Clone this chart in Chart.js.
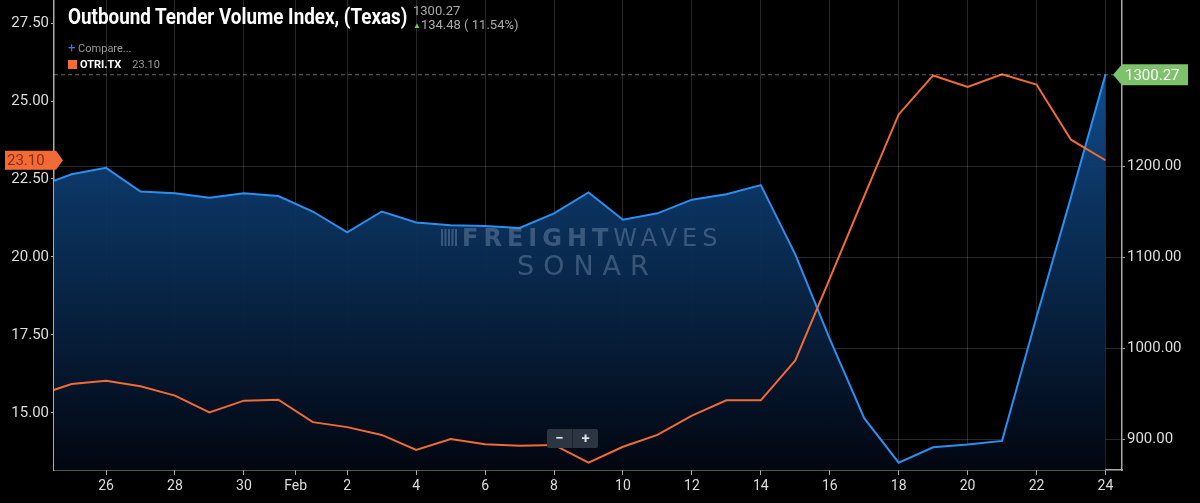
<!DOCTYPE html>
<html>
<head>
<meta charset="utf-8">
<script src="https://cdn.jsdelivr.net/npm/chart.js@4.4.1/dist/chart.umd.min.js"></script>
<style>
    html, body { margin: 0; padding: 0; background: #000; }
    #wrap { position: relative; width: 1200px; height: 503px; overflow: hidden; }
    #myCanvas { position: absolute; left: 0; top: 0; }
    .title { position: absolute; left: 68px; top: 4px; color: #fff; font: bold 22px "Roboto", sans-serif;
             transform: scaleX(0.856); transform-origin: 0 0; white-space: nowrap; }
    .last { position: absolute; left: 413px; top: 4px; color: #aaa; font: 13px "Roboto", sans-serif; line-height: 14px; }
    .last .up { color: #7dc36b; font-size: 8px; vertical-align: 1px; }
    .legend { position: absolute; left: 68px; top: 40px; font: 11px "Roboto", sans-serif; color: #999; line-height: 16px; }
    .legend .plus { color: #3d7ee0; font-size: 13px; }
    .legend .sq { display: inline-block; width: 9px; height: 9px; background: #f26b36; margin-right: 3px; vertical-align: -1px; }
    .legend b { color: #fff; font-weight: bold; }
    .zoom { position: absolute; left: 547px; top: 429px; width: 51px; height: 19px; background: #2b3642; border-radius: 2px;
            color: #ddd; font: bold 15px "Roboto", sans-serif; line-height: 19px; display: flex; }
    .zoom span { flex: 1; text-align: center; }
    .zoom span + span { border-left: 1px solid #1a222b; }
</style>
</head>
<body>
<div id="wrap">
    <canvas id="myCanvas" width="1200" height="503"></canvas>
    <div class="title">Outbound Tender Volume Index, (Texas)</div>
    <div class="last">1300.27<br><span class="up">&#9650;</span>134.48 ( 11.54%)</div>
    <div class="legend"><span class="plus">+</span> Compare...<br><span class="sq"></span><b>OTRI.TX</b>&nbsp;&nbsp;&nbsp; 23.10</div>
    <div class="zoom"><span>&minus;</span><span>+</span></div>
</div>
<script>
const dates = [
    'Jan 24', 'Jan 25', 'Jan 26', 'Jan 27', 'Jan 28', 'Jan 29', 'Jan 30', 'Jan 31',
    'Feb 1', 'Feb 2', 'Feb 3', 'Feb 4', 'Feb 5', 'Feb 6', 'Feb 7', 'Feb 8',
    'Feb 9', 'Feb 10', 'Feb 11', 'Feb 12', 'Feb 13', 'Feb 14', 'Feb 15', 'Feb 16',
    'Feb 17', 'Feb 18', 'Feb 19', 'Feb 20', 'Feb 21', 'Feb 22', 'Feb 23', 'Feb 24'
];
// Outbound Tender Volume Index (right axis)
const otvi = [
    1177, 1191, 1198, 1172, 1170, 1165, 1170, 1167,
    1150, 1127, 1150, 1138, 1135, 1134, 1132, 1148,
    1171, 1141, 1148, 1163, 1169, 1179, 1103, 1010,
    923, 874, 891, 894, 898, 1034, 1165.79, 1300.27
];
// OTRI.TX (left axis)
const otri = [
    15.56, 15.92, 16.03, 15.85, 15.55, 15.01, 15.39, 15.42,
    14.70, 14.54, 14.29, 13.81, 14.16, 13.99, 13.94, 13.97,
    13.40, 13.91, 14.29, 14.91, 15.40, 15.40, 16.68, 19.30,
    21.95, 24.57, 25.82, 25.45, 25.86, 25.53, 23.76, 23.10
];
// x tick positions are in date-index units ("Feb" sits half a day before Feb 1)
const xTickPos = [2, 4, 6, 7.5, 9, 11, 13, 15, 17, 19, 21, 23, 25, 27, 29, 31];
const xTickLabels = ['26', '28', '30', 'Feb', '2', '4', '6', '8', '10', '12', '14', '16', '18', '20', '22', '24'];
const leftTicks = [15, 17.5, 20, 22.5, 25, 27.5];
const rightTicks = [900, 1000, 1100, 1200];

const lastOtvi = otvi[otvi.length - 1];
const lastOtri = otri[otri.length - 1];

function tag(ctx, x, y, w, h, dir, fill, text, textColor) {
    // dir 1: point on the right, -1: point on the left
    ctx.save();
    ctx.fillStyle = fill;
    ctx.beginPath();
    if (dir > 0) {
        ctx.moveTo(x, y - h / 2);
        ctx.lineTo(x + w, y - h / 2);
        ctx.lineTo(x + w + 7, y);
        ctx.lineTo(x + w, y + h / 2);
        ctx.lineTo(x, y + h / 2);
    } else {
        ctx.moveTo(x, y);
        ctx.lineTo(x + 9, y - h / 2);
        ctx.lineTo(x + w, y - h / 2);
        ctx.lineTo(x + w, y + h / 2);
        ctx.lineTo(x + 9, y + h / 2);
    }
    ctx.closePath();
    ctx.fill();
    ctx.fillStyle = textColor;
    ctx.font = '15px Roboto, sans-serif';
    ctx.textBaseline = 'middle';
    ctx.textAlign = 'left';
    ctx.fillText(text, dir > 0 ? x + 2 : x + 12, y + 1);
    ctx.restore();
}

// drop the label-overhang padding chart.js adds around the plot
function fixBox(s, w, h) {
    if (w) s.width = w;
    if (h) s.height = h;
    s.paddingLeft = 0;
    s.paddingRight = 0;
    s.paddingTop = 0;
    s.paddingBottom = 0;
}

const extras = {
    id: 'extras',
    afterDatasetsDraw(chart) {
        const ctx = chart.ctx;
        const a = chart.chartArea;

        // watermark
        ctx.save();
        ctx.fillStyle = 'rgba(140,160,190,0.38)';
        ctx.textBaseline = 'alphabetic';
        ctx.textAlign = 'left';
        ctx.letterSpacing = '5px';
        ctx.font = 'bold 24px "DejaVu Sans", sans-serif';
        ctx.fillText('FREIGHT', 462, 246);
        const fw = ctx.measureText('FREIGHT').width;
        ctx.font = '24px "DejaVu Sans", sans-serif';
        ctx.fillText('WAVES', 462 + fw, 246);
        ctx.letterSpacing = '9px';
        ctx.font = '27px "DejaVu Sans", sans-serif';
        ctx.fillText('SONAR', 517, 275);
        for (let i = 0; i < 5; i++) {
            ctx.fillRect(441 + i * 3.5, 229, 2, 17);
        }
        ctx.restore();

        const yR = chart.scales.y2.getPixelForValue(lastOtvi);
        const yL = chart.scales.y.getPixelForValue(lastOtri);
        ctx.save();
        ctx.strokeStyle = 'rgba(255,255,255,0.4)';
        ctx.lineWidth = 1;
        ctx.setLineDash([4, 3]);
        ctx.beginPath();
        ctx.moveTo(a.left, yR);
        ctx.lineTo(a.right, yR);
        ctx.stroke();
        ctx.restore();
        tag(ctx, 5, yL, 51, 19, 1, '#f26b36', lastOtri.toFixed(2), '#8a2d0c');
        tag(ctx, 1113, yR, 75, 21, -1, '#7dc36b', lastOtvi.toFixed(2), '#fff');
    }
};

const ctx = document.getElementById('myCanvas').getContext('2d');
const grad = ctx.createLinearGradient(0, 0, 0, 470);
grad.addColorStop(0, 'rgba(22,96,178,0.95)');
grad.addColorStop(0.4, 'rgba(12,56,104,0.95)');
grad.addColorStop(1, 'rgba(2,6,16,1)');

const tickFont = { family: 'Roboto', size: 15 };

window.myChart = new Chart(ctx, {
    type: 'line',
    data: {
        datasets: [{
            label: 'OTRI.TX',
            data: otri.map((v, i) => ({ x: i, y: v })),
            yAxisID: 'y',
            borderColor: '#f26b36',
            borderWidth: 2,
            pointRadius: 0,
            tension: 0,
            fill: false,
            order: 0
        }, {
            label: 'Outbound Tender Volume Index, (Texas)',
            data: otvi.map((v, i) => ({ x: i, y: v })),
            yAxisID: 'y2',
            borderColor: '#2a8ff0',
            borderWidth: 2,
            pointRadius: 0,
            tension: 0,
            fill: 'start',
            backgroundColor: grad,
            order: 1
        }]
    },
    options: {
        responsive: false,
        animation: false,
        layout: { padding: 0, autoPadding: false },
        plugins: {
            legend: { display: false },
            title: { display: false },
            tooltip: { enabled: false }
        },
        scales: {
            x: {
                type: 'linear',
                min: 0.49,
                max: 31.48,
                afterBuildTicks: s => { s.ticks = xTickPos.map(v => ({ value: v })); },
                afterFit: s => fixBox(s, 0, 33),
                ticks: {
                    autoSkip: false,
                    maxRotation: 0,
                    color: '#ddd',
                    font: { family: 'Roboto', size: 14 },
                    padding: 3,
                    callback: (v, i) => xTickLabels[i]
                },
                grid: { color: 'rgba(255,255,255,0.16)', tickColor: '#aaa', tickLength: 5 },
                border: { color: '#aaa', width: 1.5 }
            },
            y: {
                position: 'left',
                min: 13.165,
                max: 28.24,
                afterBuildTicks: s => { s.ticks = leftTicks.map(v => ({ value: v })); },
                afterFit: s => fixBox(s, 54, 0),
                ticks: {
                    color: '#ddd',
                    font: tickFont,
                    padding: 2,
                    callback: v => v.toFixed(2)
                },
                grid: { drawOnChartArea: false, tickColor: '#aaa', tickLength: 3 },
                border: { color: '#aaa', width: 1.5 }
            },
            y2: {
                position: 'right',
                min: 866,
                max: 1382.4,
                afterBuildTicks: s => { s.ticks = rightTicks.map(v => ({ value: v })); },
                afterFit: s => fixBox(s, 78, 0),
                ticks: {
                    color: '#ddd',
                    font: tickFont,
                    padding: 2,
                    callback: v => v.toFixed(2)
                },
                grid: { color: 'rgba(255,255,255,0.16)', tickColor: '#aaa', tickLength: 3 },
                border: { color: '#aaa', width: 1.5 }
            }
        }
    },
    plugins: [extras]
});
</script>
</body>
</html>
